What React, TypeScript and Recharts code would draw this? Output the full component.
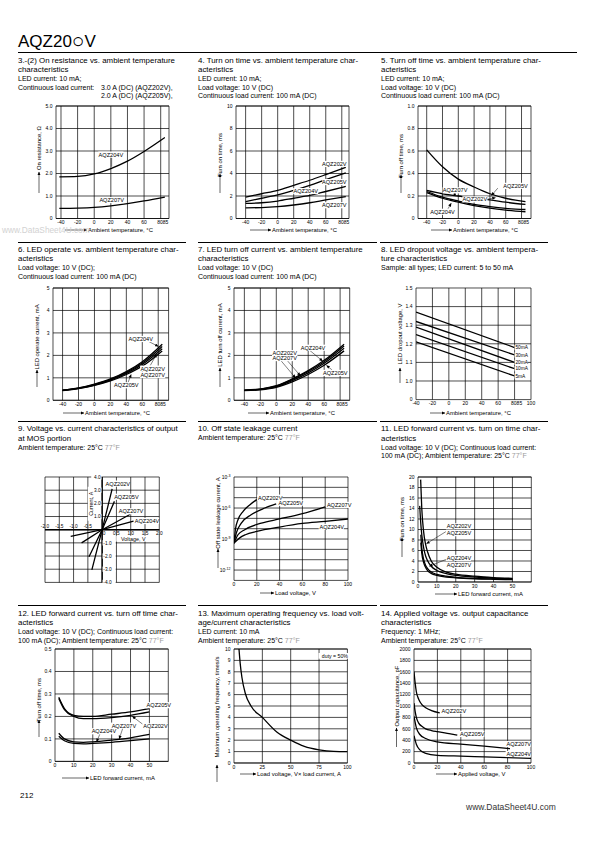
import React from 'react';
import { LineChart, Line, XAxis, YAxis, CartesianGrid, ReferenceDot, ReferenceLine } from 'recharts';

const FONT = '"Liberation Sans", Arial, Helvetica, sans-serif';

// 3.-(2) on resistance vs. ambient temperature
const resTemp = [-42, -20, 0, 20, 40, 60, 85];
const res204 = [1.85, 1.87, 1.98, 2.22, 2.55, 2.98, 3.6];
const res207 = [0.45, 0.46, 0.49, 0.56, 0.66, 0.78, 0.95];

// 4. turn on time vs. ambient temperature
const onTemp = [-40, -20, 0, 20, 40, 60, 85];
const on202 = [1.9, 2.2, 2.5, 2.95, 3.4, 3.9, 4.55];
const on205 = [1.5, 1.8, 2.1, 2.5, 2.95, 3.45, 4.05];
const on204 = [1.35, 1.4, 1.55, 1.8, 2.05, 2.4, 2.85];
const on207 = [0.95, 0.97, 1.05, 1.2, 1.4, 1.65, 1.95];

// 5. turn off time vs. ambient temperature
const offTemp = [-40, -20, 0, 20, 40, 60, 85];
const off205 = [0.61, 0.46, 0.35, 0.28, 0.22, 0.18, 0.15];
const off202 = [0.25, 0.22, 0.2, 0.18, 0.165, 0.145, 0.125];
const off207 = [0.24, 0.19, 0.155, 0.125, 0.105, 0.09, 0.08];
const off204 = [0.23, 0.18, 0.145, 0.115, 0.092, 0.075, 0.06];

// 6. LED operate current vs. ambient temperature
const opTemp = [-40, -20, 0, 20, 40, 60, 85];
const op204 = [0.45, 0.55, 0.72, 0.95, 1.28, 1.72, 2.5];
const op202 = [0.45, 0.54, 0.7, 0.92, 1.24, 1.66, 2.4];
const op207 = [0.44, 0.53, 0.68, 0.9, 1.2, 1.6, 2.3];
const op205 = [0.43, 0.52, 0.66, 0.86, 1.15, 1.52, 2.2];

// 7. LED turn off current vs. ambient temperature
const ocTemp = [-40, -20, 0, 20, 40, 60, 85];
const oc204 = [0.45, 0.5, 0.65, 0.95, 1.32, 1.78, 2.5];
const oc202 = [0.45, 0.5, 0.63, 0.92, 1.28, 1.72, 2.42];
const oc207 = [0.44, 0.49, 0.61, 0.88, 1.22, 1.65, 2.32];
const oc205 = [0.43, 0.47, 0.58, 0.82, 1.15, 1.56, 2.2];

// 8. LED dropout voltage
const dropTemp = [-40, 80];
const drop50 = [1.37, 1.18];
const drop30 = [1.32, 1.14];
const drop20 = [1.29, 1.1];
const drop10 = [1.25, 1.066];
const drop5 = [1.21, 1.027];
const dropNames = ['50mA', '30mA', '20mA', '10mA', '5mA'];

// 9. V-I of MOS output
const vi202V = [-0.36, 0, 0.35];
const vi202I = [-3.05, 0, 3.1];
const vi205V = [-0.46, 0, 0.43];
const vi205I = [-2.05, 0, 2.15];
const vi207V = [-0.72, 0, 0.97];
const vi207I = [-1.0, 0, 1.15];
const vi204V = [-1.1, 0, 1.1];
const vi204I = [-0.5, 0, 0.65];
const viVTicks = [-2, -1.5, -1, -0.5, 0, 0.5, 1, 1.5, 2];
const viITicks = [-4, -3, -2, -1, 1, 2, 3, 4];

// 10. off state leakage current
const lk202V = [0, 1.2, 3.5, 8, 14, 20];
const lk202 = [4e-10, 8e-9, 7.4e-8, 4.8e-7, 2.1e-6, 6.5e-6];
const lk205V = [0, 2, 6.4, 15, 27, 37];
const lk205 = [4e-10, 3.8e-9, 3.5e-8, 2.2e-7, 1e-6, 2.5e-6];
const lk207V = [0, 3.5, 9.4, 24, 40, 60, 80];
const lk207 = [4e-10, 2.6e-9, 8e-9, 3.5e-8, 8.7e-8, 2.8e-7, 1.26e-6];
const lk204V = [0, 5, 10, 20, 40, 60, 80, 100];
const lk204 = [4e-10, 1.3e-9, 2.6e-9, 5.5e-9, 1.45e-8, 3.2e-8, 5.1e-8, 8.7e-8];

// 11. LED forward current vs. turn on time
const ton202I = [1.4, 2, 3, 4, 5, 7, 10, 15, 20, 30, 40, 50];
const ton202 = [19.5, 14, 9.5, 7.2, 5.8, 4.0, 2.8, 1.9, 1.5, 1.1, 0.85, 0.7];
const ton205I = [0.9, 1.5, 2, 3, 4, 5, 7, 10, 15, 20, 30, 40, 50];
const ton205 = [14.5, 11, 9, 6.5, 5.0, 4.1, 3.0, 2.2, 1.6, 1.25, 0.95, 0.75, 0.62];
const ton204I = [1.5, 2, 3, 4, 5, 7, 10, 15, 20, 30, 40, 50];
const ton204 = [9, 6.5, 4.3, 3.2, 2.6, 1.9, 1.45, 1.1, 0.9, 0.7, 0.58, 0.5];
const ton207 = [7.5, 5.5, 3.7, 2.8, 2.2, 1.65, 1.25, 0.95, 0.8, 0.62, 0.52, 0.45];

// 12. LED forward current vs. turn off time
const toffI = [2, 5, 10, 15, 20, 30, 40, 50];
const toff205 = [0.285, 0.235, 0.205, 0.2, 0.2, 0.21, 0.22, 0.235];
const toff202 = [0.28, 0.23, 0.2, 0.19, 0.19, 0.195, 0.205, 0.22];
const toff207 = [0.125, 0.1, 0.087, 0.085, 0.087, 0.095, 0.105, 0.12];
const toff204 = [0.112, 0.092, 0.08, 0.078, 0.08, 0.085, 0.092, 0.1];

// 13. max operating frequency
const freqLoad = [4.4, 5.5, 7, 10, 15, 25, 38, 50, 62, 75, 88, 100];
const freq = [10, 8.7, 7.5, 6.1, 5.0, 4.0, 2.7, 2.0, 1.45, 1.15, 1.02, 1.0];

// 14. output capacitance
const cap202V = [0, 1, 2, 4, 7, 10, 15, 22];
const cap202 = [1600, 1400, 1250, 1120, 1020, 970, 920, 880];
const cap205V = [0, 1, 2, 4, 7, 10, 15, 20, 30, 37];
const cap205 = [1050, 900, 800, 700, 640, 600, 570, 550, 515, 490];
const cap207V = [0, 2, 5, 10, 20, 40, 60, 82];
const cap207 = [820, 620, 500, 430, 370, 330, 295, 250];
const cap204V = [0, 2, 5, 10, 20, 40, 60, 80, 100];
const cap204 = [480, 330, 230, 170, 135, 120, 108, 95, 80];

// ticks / grids
const tempTicks = [-40, -20, 0, 20, 40, 60, 80, 85];
const tempGrid = [-40, -20, 0, 20, 40, 60, 80];
const dropTicks = [-40, -20, 0, 20, 40, 60, 80, 85, 100];
const dropGrid = [-20, 0, 20, 40, 60, 80];
const dropY = [0.9, 1.0, 1.1, 1.2, 1.3, 1.4, 1.5];
const ticks0to5 = [0, 1, 2, 3, 4, 5];
const ticks0to10by2 = [0, 2, 4, 6, 8, 10];
const ticks0to1 = [0, 0.2, 0.4, 0.6, 0.8, 1.0];
const ticks0to05 = [0, 0.1, 0.2, 0.3, 0.4, 0.5];
const ticks0to10 = [0, 1, 2, 3, 4, 5, 6, 7, 8, 9, 10];
const ticks0to20 = [0, 2, 4, 6, 8, 10, 12, 14, 16, 18, 20];
const ticks0to2000 = [0, 200, 400, 600, 800, 1000, 1200, 1400, 1600, 1800, 2000];
const ticks0to100 = [0, 20, 40, 60, 80, 100];
const ticks0to100q = [0, 25, 50, 75, 100];
const ticks0to50 = [0, 10, 20, 30, 40, 50];
const grid0to60 = [10, 20, 30, 40, 50];
const leakTicks = [1e-12, 1e-9, 1e-6, 1e-3];
const leakGrid = [1e-12, 1e-11, 1e-10, 1e-9, 1e-8, 1e-7, 1e-6, 1e-5, 1e-4];

type P = { x: number; y: number };
const zip = (xs: number[], ys: number[]): P[] => xs.map((x, i) => ({ x, y: ys[i] }));
const f1 = (v: number) => (v === 0 ? '0' : v.toFixed(1));

type Tag = { t: string; x: number; y: number; a?: 'start' | 'middle' | 'end'; bg?: boolean; fs?: number; dx?: number; dy?: number; rot?: boolean };
type Seg = [number, number, number, number, boolean?];

type PlotCfg = {
  left: number; top: number; w: number; h: number;
  xd: [number, number]; yd: [number, number];
  xt?: number[]; yt?: number[]; xg: number[]; yg: number[];
  xf?: (v: number) => string; yf?: (v: number) => string;
  curves: P[][]; tags?: Tag[]; segs?: Seg[];
  log?: boolean; bare?: boolean; lin?: boolean; pair?: boolean; axes0?: boolean;
};

const YW = 26, XH = 10, MT = 6, MR = 24;

const textW = (s: string, fs: number) => s.length * fs * 0.6;

const tagLabel = (t: Tag) => (p: any) => {
  const vb = p.viewBox || { x: p.x || 0, y: p.y || 0, width: 0, height: 0 };
  const cx = vb.x + (vb.width || 0) / 2 + (t.dx || 0);
  const cy = vb.y + (vb.height || 0) / 2 + (t.dy || 0);
  const fs = t.fs || 5.6;
  const a = t.a || 'middle';
  const tw = textW(t.t, fs);
  const x0 = a === 'start' ? cx : a === 'end' ? cx - tw : cx - tw / 2;
  return (
    <g transform={t.rot ? `rotate(-90 ${cx} ${cy})` : undefined}>
      {t.bg !== false && <rect x={x0 - 0.8} y={cy - fs * 0.55} width={tw + 1.6} height={fs * 1.1} fill="#fff" />}
      <text x={cx} y={cy} dy="0.35em" textAnchor={a} fontSize={fs} fontFamily={FONT} fill="#000">{t.t}</text>
    </g>
  );
};

function Plot(c: PlotCfg) {
  const ml = c.bare ? YW : 0;
  const mb = c.bare ? XH : 0;
  const half = (c.w / (c.xd[1] - c.xd[0])) * 2.5;
  const xg = [c.xd[0], ...c.xg, c.xd[1]];
  const yg = [c.yd[0], ...c.yg, c.yd[1]];
  const xTick = (p: any) => {
    const v = p.payload.value;
    let x = p.x;
    let anchor: 'middle' | 'end' | 'start' = 'middle';
    if (c.pair && v === 80) { x = p.x + half; anchor = 'end'; }
    if (c.pair && v === 85) { x = p.x - half; anchor = 'start'; }
    return (
      <text x={x} y={p.y} dy="0.71em" textAnchor={anchor} fontSize={5} fontFamily={FONT} fill="#000">
        {c.xf ? c.xf(v) : String(v)}
      </text>
    );
  };
  const yTick = (p: any) => {
    const v = p.payload.value;
    if (c.log) {
      const e = Math.round(Math.log10(v));
      return (
        <text x={p.x} y={p.y} dy="0.35em" textAnchor="end" fontSize={5} fontFamily={FONT} fill="#000">
          10<tspan dy={-2} fontSize={3.6}>{e}</tspan>
        </text>
      );
    }
    return (
      <text x={p.x} y={p.y} dy="0.35em" textAnchor="end" fontSize={5} fontFamily={FONT} fill="#000">
        {c.yf ? c.yf(v) : String(v)}
      </text>
    );
  };
  return (
    <div style={{ position: 'absolute', left: c.left - YW, top: c.top - MT }}>
      <LineChart width={c.w + YW + MR} height={c.h + MT + XH} margin={{ top: MT, right: MR, left: ml, bottom: mb }}>
        <CartesianGrid stroke="#000" strokeWidth={0.7} horizontalValues={yg} verticalValues={xg} />
        <XAxis type="number" dataKey="x" domain={c.xd} ticks={c.xt} interval={0} hide={c.bare} height={XH}
          tickSize={0} tickMargin={2} axisLine={false} tickLine={false} tick={xTick} allowDataOverflow />
        <YAxis type="number" domain={c.yd} ticks={c.yt} interval={0} hide={c.bare} width={YW}
          scale={c.log ? 'log' : 'auto'} tickSize={0} tickMargin={3.5} axisLine={false} tickLine={false} tick={yTick} allowDataOverflow />
        {c.axes0 && <ReferenceLine x={0} stroke="#000" strokeWidth={1.4} />}
        {c.axes0 && <ReferenceLine y={0} stroke="#000" strokeWidth={1.4} />}
        {c.curves.map((d, i) => (
          <Line key={'c' + i} data={d} dataKey="y" type={c.lin ? 'linear' : 'monotone'} stroke="#000"
            strokeWidth={1.3} dot={false} isAnimationActive={false} />
        ))}
        {(c.segs || []).map((s, i) => (
          <ReferenceLine key={'s' + i} segment={[{ x: s[0], y: s[1] }, { x: s[2], y: s[3] }]} stroke="#000"
            strokeWidth={0.5} ifOverflow="visible" markerEnd={s[4] ? 'url(#ah)' : undefined} />
        ))}
        {(c.tags || []).map((t, i) => (
          <ReferenceDot key={'t' + i} x={t.x} y={t.y} r={1} fill="none" stroke="none" ifOverflow="visible" label={tagLabel(t)} />
        ))}
      </LineChart>
    </div>
  );
}

const tint = (s: string) => {
  const k = s.indexOf('77°F');
  if (k < 0) return s;
  return (<>{s.slice(0, k)}<span style={{ color: '#9a9a9a' }}>77°F</span>{s.slice(k + 4)}</>);
};

function Head({ x, y, title, sub }: { x: number; y: number; title: string[]; sub: (string | [string, string])[] }) {
  const y0 = y + (title.length - 1) * 9.2 + 9;
  return (
    <>
      {title.map((t, i) => (
        <div key={'t' + i} style={{ position: 'absolute', left: x, top: y + i * 9.2 - 5, fontSize: 7.9, lineHeight: '10px', whiteSpace: 'nowrap' }}>{t}</div>
      ))}
      {sub.map((s, i) => (
        <div key={'s' + i} style={{ position: 'absolute', left: x, top: y0 + i * 8.3 - 5, fontSize: 7, lineHeight: '10px', whiteSpace: 'nowrap' }}>
          {typeof s === 'string' ? tint(s) : (<>{s[0]}<span style={{ position: 'absolute', left: 83 }}>{s[1]}</span></>)}
        </div>
      ))}
    </>
  );
}

const xTitles = [
  { t: 'Ambient temperature, °C', x1: 65, x2: 87, y: 230 },
  { t: 'Ambient temperature, °C', x1: 250, x2: 271, y: 230 },
  { t: 'Ambient temperature, °C', x1: 431, x2: 452, y: 230 },
  { t: 'Ambient temperature, °C', x1: 63, x2: 84, y: 413 },
  { t: 'Ambient temperature, °C', x1: 248, x2: 269, y: 413 },
  { t: 'Ambient temperature, °C', x1: 430, x2: 445, y: 413 },
  { t: 'Load voltage, V', x1: 260, x2: 274, y: 593 },
  { t: 'LED forward current, mA', x1: 435, x2: 457, y: 594 },
  { t: 'LED forward current, mA', x1: 62, x2: 89, y: 778 },
  { t: 'Load voltage, V× load current, A', x1: 240, x2: 256, y: 774 },
  { t: 'Applied voltage, V', x1: 436, x2: 457, y: 774 },
];
const yTitles = [
  { t: 'On resistance, Ω', x: 39, y1: 193, y2: 172, cy: 148 },
  { t: 'Turn on time, ms', x: 220, y1: 193, y2: 174, cy: 155 },
  { t: 'Turn off time, ms', x: 401, y1: 193, y2: 175, cy: 156 },
  { t: 'LED operate current, mA', x: 37, y1: 387, y2: 370, cy: 337 },
  { t: 'LED turn off current, mA', x: 220, y1: 387, y2: 368, cy: 335 },
  { t: 'LED dropout voltage, V', x: 400, y1: 383, y2: 368, cy: 334 },
  { t: 'Off state leakage current, A', x: 218, y1: 568, y2: 549, cy: 513 },
  { t: 'Turn on time, ms', x: 402, y1: 557, y2: 538, cy: 519 },
  { t: 'Turn off time, ms', x: 39, y1: 737, y2: 720, cy: 700 },
  { t: 'Maximum operating frequency, times/s', x: 217, y1: 782, y2: 765, cy: 707 },
  { t: 'Output capacitance, pF', x: 396.5, y1: 747, y2: 728, cy: 696 },
];

const rule = (x1: number, x2: number, y: number, t = 1.2) => (
  <div style={{ position: 'absolute', left: x1, top: y, width: x2 - x1, height: t, background: '#000' }} />
);

export default function App() {
  const viTags: Tag[] = [
    ...viVTicks.map((v) => ({ t: v === 0 ? '0' : v.toFixed(1), x: v, y: 0, a: 'middle' as const, dy: v < 0 ? -3.6 : 4, dx: v === 0 ? 2 : 0, bg: false, fs: 4.8 })),
    ...viITicks.map((v) => ({ t: v.toFixed(1), x: 0, y: v, a: (v > 0 ? 'end' : 'start') as 'end' | 'start', dx: v > 0 ? -1.5 : 1.2, fs: 4.8 })),
    { t: 'AQZ202V', x: 0.12, y: 3.5, a: 'start' },
    { t: 'AQZ205V', x: 0.42, y: 2.5, a: 'start' },
    { t: 'AQZ207V', x: 0.58, y: 1.4, a: 'start' },
    { t: 'AQZ204V', x: 1.14, y: 0.66, a: 'start' },
    { t: 'Current, A', x: -0.4, y: 1.97, rot: true, fs: 5.4 },
    { t: 'Voltage, V', x: 1.09, y: -0.68, fs: 5.4 },
  ];

  return (
    <div style={{ position: 'absolute', left: 0, top: 0, width: 595, height: 842, background: '#fff', fontFamily: FONT, color: '#000', overflow: 'hidden' }}>
      <svg width={0} height={0} style={{ position: 'absolute' }}>
        <defs>
          <marker id="ah" viewBox="0 0 6 6" refX="5.5" refY="3" markerWidth="4" markerHeight="3.5" markerUnits="userSpaceOnUse" orient="auto">
            <path d="M0,0.3 L6,3 L0,5.7 z" fill="#000" />
          </marker>
        </defs>
      </svg>

      <div style={{ position: 'absolute', left: 18, top: 31, fontSize: 17, lineHeight: '17px', whiteSpace: 'nowrap' }}>
        AQZ20<span style={{ fontSize: 21, lineHeight: '17px', position: 'relative', top: 1 }}>○</span>V
      </div>
      {rule(18, 577, 51.5, 1)}
      {rule(18, 186, 241.5)}
      {rule(198, 377, 241.5)}
      {rule(380, 548, 241.5)}
      {rule(18, 186, 421.2)}
      {rule(198, 377, 421.2)}
      {rule(380, 548, 421.2)}
      {rule(18, 186, 604.5)}
      {rule(198, 377, 604.5)}
      {rule(380, 548, 604.5)}

      <Head x={18} y={61} title={['3.-(2) On resistance vs. ambient temperature', 'characteristics']}
        sub={['LED current: 10 mA;', ['Continuous load current:', '3.0 A (DC) (AQZ202V),'], ['', '2.0 A (DC) (AQZ205V),']]} />
      <Head x={198} y={61} title={['4. Turn on time vs. ambient temperature char-', 'acteristics']}
        sub={['LED current: 10 mA;', 'Load voltage: 10 V (DC)', 'Continuous load current: 100 mA (DC)']} />
      <Head x={381} y={61} title={['5. Turn off time vs. ambient temperature char-', 'acteristics']}
        sub={['LED current: 10 mA;', 'Load voltage: 10 V (DC)', 'Continuous load current: 100 mA (DC)']} />
      <Head x={18} y={250} title={['6. LED operate vs. ambient temperature char-', 'acteristics']}
        sub={['Load voltage: 10 V (DC);', 'Continuous load current: 100 mA (DC)']} />
      <Head x={198} y={250} title={['7. LED turn off current vs. ambient temperature', 'characteristics']}
        sub={['Load voltage: 10 V (DC)', 'Continuous load current: 100 mA (DC)']} />
      <Head x={381} y={250} title={['8. LED dropout voltage vs. ambient tempera-', 'ture characteristics']}
        sub={['Sample: all types; LED current: 5 to 50 mA']} />
      <Head x={18} y={429.3} title={['9. Voltage vs. current characteristics of output', 'at MOS portion']}
        sub={['Ambient temperature: 25°C 77°F']} />
      <Head x={198} y={429.3} title={['10. Off state leakage current']}
        sub={['Ambient temperature: 25°C 77°F']} />
      <Head x={381} y={429.3} title={['11. LED forward current vs. turn on time char-', 'acteristics']}
        sub={['Load voltage: 10 V (DC); Continuous load current:', '100 mA (DC); Ambient temperature: 25°C 77°F']} />
      <Head x={18} y={614} title={['12. LED forward current vs. turn off time char-', 'acteristics']}
        sub={['Load voltage: 10 V (DC); Continuous load current:', '100 mA (DC); Ambient temperature: 25°C 77°F']} />
      <Head x={198} y={614} title={['13. Maximum operating frequency vs. load volt-', 'age/current characteristics']}
        sub={['LED current: 10 mA', 'Ambient temperature: 25°C 77°F']} />
      <Head x={381} y={614} title={['14. Applied voltage vs. output capacitance', 'characteristics']}
        sub={['Frequency: 1 MHz;', 'Ambient temperature: 25°C 77°F']} />

      <Plot left={56} top={105.5} w={113} h={112.5} xd={[-46, 90]} yd={[0, 5]} xt={tempTicks} yt={ticks0to5}
        xg={tempGrid} yg={ticks0to5} yf={f1} pair
        curves={[zip(resTemp, res204), zip(resTemp, res207)]}
        tags={[{ t: 'AQZ204V', x: 20, y: 2.84 }, { t: 'AQZ207V', x: 21, y: 0.82 }]}
        segs={[[21, 2.7, 21, 2.3]]} />
      <Plot left={236} top={105.5} w={113} h={112.5} xd={[-52, 89]} yd={[0, 10]} xt={tempTicks} yt={ticks0to10by2}
        xg={tempGrid} yg={ticks0to10by2} pair
        curves={[zip(onTemp, on202), zip(onTemp, on205), zip(onTemp, on204), zip(onTemp, on207)]}
        tags={[{ t: 'AQZ202V', x: 86, y: 4.85, a: 'end' }, { t: 'AQZ205V', x: 86, y: 3.24, a: 'end' },
          { t: 'AQZ204V', x: 35, y: 2.44 }, { t: 'AQZ207V', x: 86, y: 1.18, a: 'end' }]} />
      <Plot left={418} top={105.5} w={113} h={112.5} xd={[-51, 92]} yd={[0, 1]} xt={tempTicks} yt={ticks0to1}
        xg={tempGrid} yg={ticks0to1} yf={f1} pair
        curves={[zip(offTemp, off205), zip(offTemp, off202), zip(offTemp, off207), zip(offTemp, off204)]}
        tags={[{ t: 'AQZ205V', x: 88, y: 0.29, a: 'end' }, { t: 'AQZ207V', x: -4, y: 0.25 },
          { t: 'AQZ202V', x: 21, y: 0.17 }, { t: 'AQZ204V', x: -20, y: 0.06 }]}
        segs={[[50, 0.27, 42, 0.205, true], [-3, 0.235, -6, 0.2, true], [35, 0.17, 47, 0.185, true], [-14, 0.075, -9, 0.135, true]]} />

      <Plot left={52.7} top={287.7} w={115.6} h={112.3} xd={[-52, 93]} yd={[0, 5]} xt={tempTicks} yt={ticks0to5}
        xg={tempGrid} yg={ticks0to5} pair
        curves={[zip(opTemp, op204), zip(opTemp, op202), zip(opTemp, op207), zip(opTemp, op205)]}
        tags={[{ t: 'AQZ204V', x: 58, y: 2.73 }, { t: 'AQZ202V', x: 73, y: 1.41 }, { t: 'AQZ207V', x: 73, y: 1.12 }, { t: 'AQZ205V', x: 40, y: 0.67 }]}
        segs={[[68, 2.62, 80, 2.4, true], [70, 1.55, 78, 2.05, true], [42, 0.78, 46, 1.15, true]]} />
      <Plot left={234.3} top={287.7} w={115.7} h={112.3} xd={[-53, 92]} yd={[0, 5]} xt={tempTicks} yt={ticks0to5}
        xg={tempGrid} yg={ticks0to5} pair
        curves={[zip(ocTemp, oc204), zip(ocTemp, oc202), zip(ocTemp, oc207), zip(ocTemp, oc205)]}
        tags={[{ t: 'AQZ202V', x: 10.5, y: 2.1 }, { t: 'AQZ207V', x: 10.5, y: 1.88 }, { t: 'AQZ204V', x: 46, y: 2.34 }, { t: 'AQZ205V', x: 74, y: 1.22 }]}
        segs={[[6, 1.76, 24, 1.0, true], [14, 1.76, 30, 1.1, true], [42, 2.22, 58, 1.75, true], [70, 1.35, 63, 1.55, true]]} />
      <Plot left={415.7} top={287.7} w={115} h={111.6} xd={[-40, 100]} yd={[0.9, 1.5]} xt={dropTicks} yt={dropY}
        xg={dropGrid} yg={[1.0, 1.1, 1.2, 1.3, 1.4]} yf={(v) => (v < 0.95 ? '0' : v.toFixed(1))} pair lin
        curves={[zip(dropTemp, drop50), zip(dropTemp, drop30), zip(dropTemp, drop20), zip(dropTemp, drop10), zip(dropTemp, drop5)]}
        tags={[drop50, drop30, drop20, drop10, drop5].map((d, i) => ({ t: dropNames[i], x: 81, y: d[1], a: 'start' as const, fs: 4.8 }))} />

      <Plot left={45} top={477.3} w={114.3} h={105.4} xd={[-2, 2]} yd={[-4, 4]}
        xg={[-1.5, -1, -0.5, 0, 0.5, 1, 1.5]} yg={[-3, -2, -1, 0, 1, 2, 3]} bare lin axes0
        curves={[zip(vi202V, vi202I), zip(vi205V, vi205I), zip(vi207V, vi207I), zip(vi204V, vi204I)]}
        tags={viTags} />
      <Plot left={234.3} top={477.3} w={114} h={103.4} xd={[0, 100]} yd={[1e-13, 1e-3]} log xt={ticks0to100} yt={leakTicks}
        xg={[20, 40, 60, 80]} yg={leakGrid}
        curves={[zip(lk202V, lk202), zip(lk205V, lk205), zip(lk207V, lk207), zip(lk204V, lk204)]}
        tags={[{ t: 'AQZ202V', x: 21, y: 1e-5, a: 'start' }, { t: 'AQZ205V', x: 39, y: 3.2e-6, a: 'start' },
          { t: 'AQZ207V', x: 81.5, y: 2e-6, a: 'start' }, { t: 'AQZ204V', x: 75, y: 1.5e-8, a: 'start' }]} />
      <Plot left={418} top={477.3} w={113.3} h={105} xd={[0, 60]} yd={[0, 20]} xt={ticks0to50} yt={ticks0to20}
        xg={grid0to60} yg={ticks0to20}
        curves={[zip(ton202I, ton202), zip(ton205I, ton205), zip(ton204I, ton204), zip(ton204I, ton207)]}
        tags={[{ t: 'AQZ202V', x: 15.2, y: 10.6, a: 'start' }, { t: 'AQZ205V', x: 15.2, y: 9.3, a: 'start' },
          { t: 'AQZ204V', x: 15.2, y: 4.6, a: 'start' }, { t: 'AQZ207V', x: 15.2, y: 3.2, a: 'start' }]}
        segs={[[14.8, 9.6, 4.5, 7.3, true], [14.8, 4.3, 6, 3.0, true]]} />

      <Plot left={55} top={649.3} w={113.3} h={112.4} xd={[0, 60]} yd={[0, 0.5]} xt={ticks0to50} yt={ticks0to05}
        xg={grid0to60} yg={ticks0to05} yf={f1}
        curves={[zip(toffI, toff205), zip(toffI, toff202), zip(toffI, toff207), zip(toffI, toff204)]}
        tags={[{ t: 'AQZ205V', x: 48.5, y: 0.25, a: 'start' }, { t: 'AQZ202V', x: 46.7, y: 0.156, a: 'start' },
          { t: 'AQZ207V', x: 30, y: 0.159, a: 'start' }, { t: 'AQZ204V', x: 19.4, y: 0.134, a: 'start' }]}
        segs={[[46.5, 0.165, 41, 0.2, true], [36, 0.15, 34, 0.1, true], [24, 0.126, 22, 0.087, true]]} />
      <Plot left={234.3} top={649.3} w={113.4} h={114} xd={[0, 100]} yd={[0, 10]} xt={ticks0to100q} yt={ticks0to10}
        xg={[25, 50, 75]} yg={ticks0to10}
        curves={[zip(freqLoad, freq)]}
        tags={[{ t: 'duty = 50%', x: 89, y: 9.4, fs: 5.2 }]} />
      <Plot left={413.7} top={649.3} w={117} h={114} xd={[0, 100]} yd={[0, 2000]} xt={ticks0to100} yt={ticks0to2000}
        xg={[20, 40, 60, 80]} yg={ticks0to2000}
        curves={[zip(cap202V, cap202), zip(cap205V, cap205), zip(cap207V, cap207), zip(cap204V, cap204)]}
        tags={[{ t: 'AQZ202V', x: 23.6, y: 918, a: 'start' }, { t: 'AQZ205V', x: 39.3, y: 509, a: 'start' },
          { t: 'AQZ207V', x: 79, y: 333, a: 'start' }, { t: 'AQZ204V', x: 79, y: 158, a: 'start' }]} />

      <svg width={595} height={842} style={{ position: 'absolute', left: 0, top: 0, pointerEvents: 'none' }}>
        {xTitles.map((a, i) => (
          <g key={'x' + i}>
            <line x1={a.x1} y1={a.y} x2={a.x2} y2={a.y} stroke="#000" strokeWidth={0.6} markerEnd="url(#ah)" />
            <text x={a.x2 + 1} y={a.y} dy="0.35em" fontSize={5.9} fontFamily={FONT} fill="#000">{a.t}</text>
          </g>
        ))}
        {yTitles.map((a, i) => (
          <g key={'y' + i}>
            <line x1={a.x} y1={a.y1} x2={a.x} y2={a.y2} stroke="#000" strokeWidth={0.6} markerEnd="url(#ah)" />
            <text x={a.x} y={a.cy} dy="0.35em" textAnchor="middle" fontSize={5.9} fontFamily={FONT} fill="#000"
              transform={`rotate(-90 ${a.x} ${a.cy})`}>{a.t}</text>
          </g>
        ))}
      </svg>

      <div style={{ position: 'absolute', left: 2, top: 225, fontSize: 8.3, color: '#d2d2d2', whiteSpace: 'nowrap' }}>www.DataSheet4U.com</div>
      <div style={{ position: 'absolute', left: 20, top: 791, fontSize: 8, lineHeight: '10px' }}>212</div>
      <div style={{ position: 'absolute', left: 466, top: 802, fontSize: 8.5, lineHeight: '10px', color: '#333', whiteSpace: 'nowrap' }}>www.DataSheet4U.com</div>
    </div>
  );
}
